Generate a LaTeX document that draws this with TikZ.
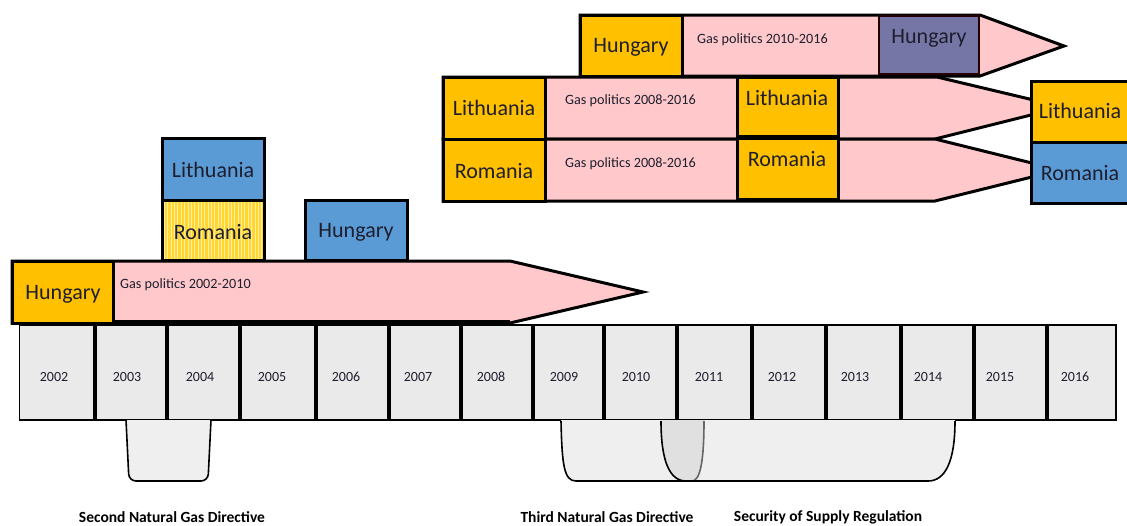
\documentclass[tikz,border=0pt]{standalone}
\usepackage{fontspec}
\setmainfont{Carlito}
\definecolor{pinkfill}{HTML}{FFC9CC}
\definecolor{orangefill}{HTML}{FFC000}
\definecolor{bluefill}{HTML}{5B9BD5}
\definecolor{purplefill}{HTML}{7676A6}
\definecolor{yellowfill}{HTML}{FFD633}
\definecolor{yellowstripe}{HTML}{FFF0A0}
\definecolor{yeargrey}{HTML}{EAEAEA}
\definecolor{dirgrey}{HTML}{EFEFEF}
\definecolor{overlapgrey}{HTML}{E0E0E0}
\definecolor{txt}{HTML}{1E1E2E}
\tikzset{
  cbox/.style={draw=black, line width=3pt},
  arrowbody/.style={draw=black, line width=3pt, fill=pinkfill, line join=miter},
  country/.style={font=\fontsize{22}{22}\selectfont, text=txt, inner sep=0pt},
  gp/.style={font=\fontsize{14.2}{15}\selectfont, text=txt, anchor=west, inner sep=0pt},
  yearlbl/.style={font=\fontsize{14}{14}\selectfont, text=txt, inner sep=0pt},
  dirlbl/.style={font=\bfseries\fontsize{15.5}{16}\selectfont, text=black, inner sep=0pt},
  dirshape/.style={draw=black, line width=1.6pt, fill=dirgrey},
}
\begin{document}
\begin{tikzpicture}[x=1pt,y=-1pt]
\useasboundingbox (0,0) rectangle (1127,525);
\clip (0,0) rectangle (1127,525);

% ---------- timeline of years ----------
\draw[fill=yeargrey, line width=1.5pt] (19.6,325) rectangle (1116,420);
\foreach \sx in {94.6,167,240,316,388.6,460.7,533,604,677,752,826,901,974,1046.5}
  \draw[line width=4pt] (\sx,325) -- (\sx,420);
\foreach \yx/\yr in {54/2002,127/2003,200/2004,272/2005,346/2006,418/2007,491/2008,
  564/2009,636/2010,709/2011,782/2012,855/2013,928/2014,1000/2015,1075/2016}
  \node[yearlbl] (y\yr) at (\yx,377) {\yr};

% ---------- EU legislation below the timeline ----------
\draw[dirshape, rounded corners=7pt] (126,420) -- (129,481) -- (208,481) -- (211,420);
% security of supply regulation
\path[fill=dirgrey] (661,420) .. controls (661,462) and (670,481) .. (686,481)
  -- (928,481) .. controls (945,481) and (955,462) .. (955,420) -- cycle;
% third directive
\path[fill=dirgrey] (561,420) .. controls (562,465) and (564,481) .. (576,481)
  -- (692,481) .. controls (700,481) and (704,462) .. (704,420) -- cycle;
% overlap of both
\begin{scope}
  \clip (661,420) .. controls (661,462) and (670,481) .. (686,481)
    -- (928,481) .. controls (945,481) and (955,462) .. (955,420) -- cycle;
  \fill[overlapgrey] (561,420) .. controls (562,465) and (564,481) .. (576,481)
    -- (692,481) .. controls (700,481) and (704,462) .. (704,420) -- cycle;
\end{scope}
\draw[line width=1.6pt] (561,421) .. controls (562,465) and (564,481) .. (576,481) -- (686,481);
\draw[line width=1.6pt, draw=black!60] (686,481) -- (692,481) .. controls (700,481) and (704,462) .. (704,421);
\draw[line width=1.6pt] (661,421) .. controls (661,462) and (670,481) .. (686,481)
  -- (928,481) .. controls (945,481) and (955,462) .. (955,421);

\node[dirlbl] (dir2) at (172,517) {Second Natural Gas Directive};
\node[dirlbl] (dir3) at (607,517) {Third Natural Gas Directive};
\node[dirlbl] (sos)  at (828,517) {Security of Supply Regulation};

% ---------- gas politics 2002-2010 ----------
\draw[arrowbody] (12,261) -- (510,261) -- (643,292) -- (510,323) -- (12,323) -- cycle;
\draw[line width=4.5pt] (12,322) -- (510,322);
\draw[cbox, fill=orangefill] (12,261) rectangle (113,323);
\node[country] (hu0) at (63,294) {Hungary};
\node[gp] (gp0) at (120,285) {Gas politics 2002-2010};

\draw[cbox, fill=bluefill] (162,138) rectangle (264,200);
\node[country] (lt0) at (213,170) {Lithuania};
\fill[yellowfill] (162,200) rectangle (264,260);
\foreach \k in {0,...,29}
  \draw[yellowstripe, line width=0.9pt] (164.5+3.35*\k,201.5) -- (164.5+3.35*\k,258.5);
\draw[cbox] (162,200) rectangle (264,260);
\node[country] (ro0) at (213,232) {Romania};
\draw[cbox, fill=bluefill] (305,200) rectangle (407,260);
\node[country] (hu0b) at (356,232) {Hungary};

% ---------- gas politics 2008-2016 ----------
\draw[arrowbody] (443,77) -- (937,77) -- (1063,107) -- (935,139) -- (443,139) -- cycle;
\draw[arrowbody] (443,139) -- (935,139) -- (1060,170) -- (935,201) -- (443,201) -- cycle;
\draw[cbox, fill=orangefill] (443,77) rectangle (545,139);
\draw[cbox, fill=orangefill] (443,139) rectangle (545,201);
\draw[cbox, fill=orangefill] (737,77) rectangle (838,136);
\draw[cbox, fill=orangefill] (737,138) rectangle (838,199);
\node[country] (lt1) at (494,108) {Lithuania};
\node[country] (ro1) at (494,171) {Romania};
\node[gp] (gp1) at (565,101) {Gas politics 2008-2016};
\node[gp] (gp2) at (565,164) {Gas politics 2008-2016};
\node[country] (lt2) at (787,98) {Lithuania};
\node[country] (ro2) at (787,159) {Romania};

\draw[cbox, fill=orangefill] (1031,81) rectangle (1140,142);
\draw[cbox, fill=bluefill] (1031,142) rectangle (1140,203);
\node[country] (lt3) at (1080,111) {Lithuania};
\node[country] (ro3) at (1080,173) {Romania};

% ---------- gas politics 2010-2016 ----------
\draw[arrowbody] (580,15) -- (980,15) -- (1064,46) -- (980,76) -- (580,76) -- cycle;
\draw[cbox, fill=orangefill] (580,15) rectangle (682,76);
\draw[draw=black!85!red, line width=2.5pt, fill=purplefill] (879,16) rectangle (979,74);
\node[country] (hu1) at (631,47) {Hungary};
\node[gp] (gp3) at (697,40) {Gas politics 2010-2016};
\node[country] (hu2) at (929,38) {Hungary};
\end{tikzpicture}
\end{document}
